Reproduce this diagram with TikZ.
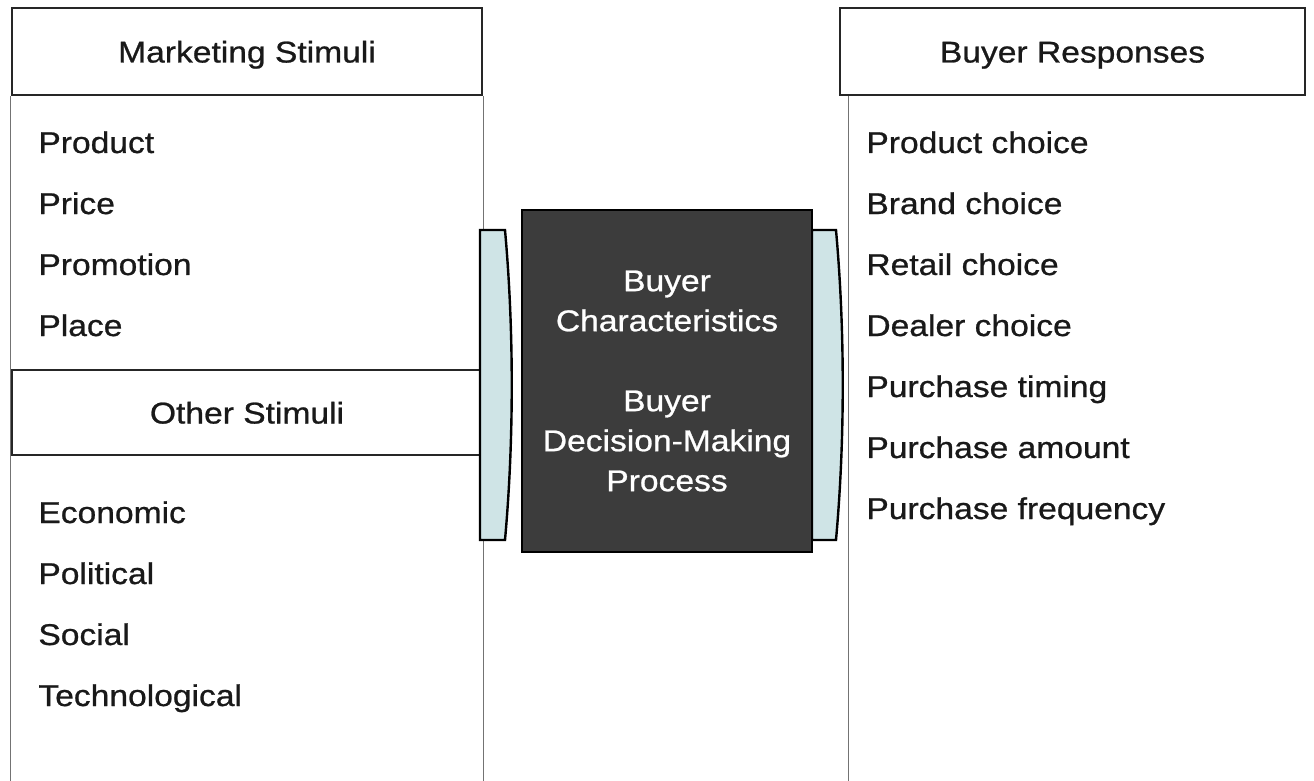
\documentclass[tikz,border=0pt]{standalone}
\usepackage{fontspec}
\setmainfont{Liberation Sans}[FakeStretch=1.12, FakeBold=0.8]
\usepackage{tikz}
\usepackage{xcolor}
\usetikzlibrary{positioning}

\definecolor{coregray}{HTML}{3C3C3C}
\definecolor{pale blue}{HTML}{CFE4E6}

\begin{document}
\begin{tikzpicture}[x=0.5pt,y=-0.5pt]
    % Define the styles for headers, list items and lines
    \tikzstyle{header}=[draw=black!85, line width=1.4pt, fill=white, minimum width=235pt, minimum height=43.5pt, inner sep=0pt, text height=11pt, text depth=0pt, text=black!90, font=\fontsize{15}{18}\selectfont];
    \tikzstyle{item}=[anchor=base west, inner sep=0pt, text=black!90, font=\fontsize{15}{18}\selectfont];
    \tikzstyle{colline}=[draw=black!55, line width=0.8pt];
    \tikzstyle{bracket}=[draw=black, line width=1.2pt, fill=pale blue];

    \useasboundingbox (0,0) rectangle (1314,781);
    \coordinate (bot) at (0,781);

    % Column headers
    \node[header] (mkt) at (247,51.5) {Marketing Stimuli};
    \node[header, minimum width=232.5pt] (resp) at (1072.5,51.5) {Buyer Responses};

    % Column lines down to the bottom
    \draw[colline] (mkt.south west) -- (mkt.south west |- bot);
    \draw[colline] (mkt.south east) -- (mkt.south east |- bot);
    \coordinate (rtop) at ([xshift=5pt]resp.south west);
    \draw[colline] (rtop) -- (rtop |- bot);

    % Second header in the left column
    \node[header, minimum height=42.5pt] (other) at (247,412.5) {Other Stimuli};

    % Brackets on both sides of the black box
    \draw[bracket] (480,230) -- (505,230) .. controls (514,330) and (514,440) .. (505,540) -- (480,540) -- cycle;
    \draw[bracket] (812,230) -- (836,230) .. controls (845,330) and (845,440) .. (836,540) -- (812,540) -- cycle;

    % The black box
    \node[draw=black, line width=0.8pt, fill=coregray, minimum width=145pt, minimum height=171pt, inner sep=0pt, text=white, align=center, font=\fontsize{15}{20}\selectfont] (core) at (667,381)
        {Buyer\\Characteristics\\[20pt]Buyer\\Decision-Making\\Process};

    % List items
    \foreach \txt [count=\i] in {Product, Price, Promotion, Place}
        \node[item] (mk\i) at (38,92+61*\i) {\txt};
    \foreach \txt [count=\i] in {Economic, Political, Social, Technological}
        \node[item] (ot\i) at (38,462+61*\i) {\txt};
    \foreach \txt [count=\i] in {Product choice, Brand choice, Retail choice, Dealer choice, Purchase timing, Purchase amount, Purchase frequency}
        \node[item] (rs\i) at (866,92+61*\i) {\txt};
\end{tikzpicture}
\end{document}
